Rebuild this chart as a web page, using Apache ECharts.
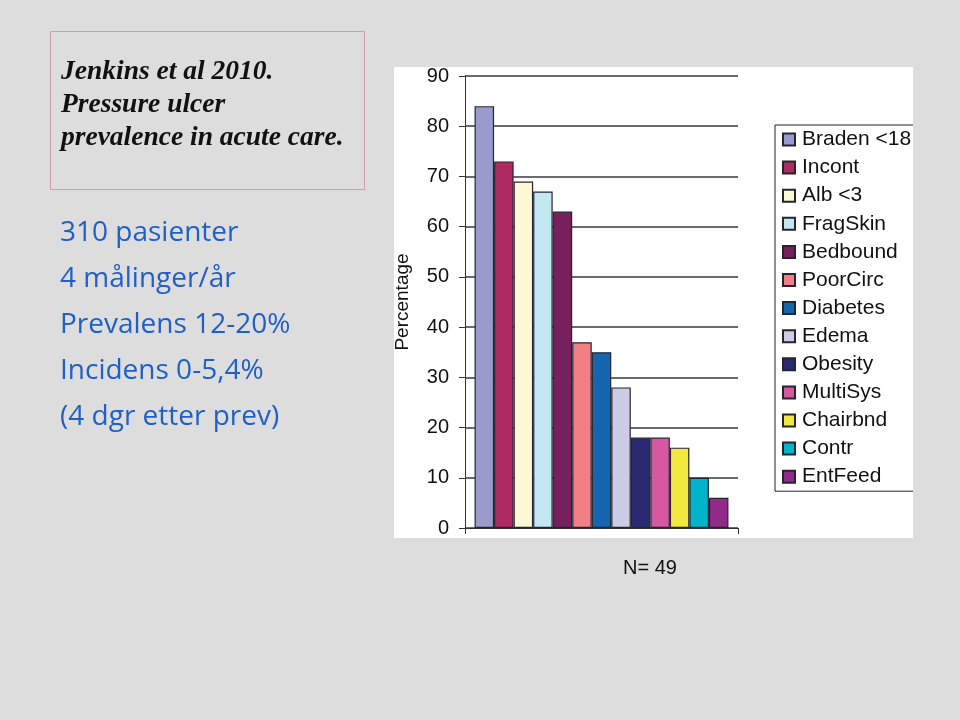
<!DOCTYPE html>
<html>
<head>
<meta charset="utf-8">
<script src="https://cdn.jsdelivr.net/npm/echarts@6/dist/echarts.min.js"></script>
<style>html,body{margin:0;padding:0;background:#dddddd;}#c{width:960px;height:720px;}</style>
</head>
<body>
<div id="c"></div>
<script>
const seriesNames = ['Braden <18','Incont','Alb <3','FragSkin','Bedbound','PoorCirc','Diabetes','Edema','Obesity','MultiSys','Chairbnd','Contr','EntFeed'];
const seriesValues = [84, 73, 69, 67, 63, 37, 35, 28, 18, 18, 16, 10, 6];
const seriesColors = ['#9a9acc','#b02a62','#fcf8d6','#c4e8f2','#76205e','#f07f86','#1566b0','#cccce6','#2a2a72','#d658a0','#f2e840','#00b4cc','#922a8a'];
const yTicks = [0, 10, 20, 30, 40, 50, 60, 70, 80, 90];
const categories = [''];
const titleLines = ['Jenkins et al 2010.', 'Pressure ulcer', 'prevalence in acute care.'];
const infoLines = ['310 pasienter', '4 målinger/år', 'Prevalens 12-20%', 'Incidens 0-5,4%', '(4 dgr etter prev)'];
const noteText = 'N= 49';

const chart = echarts.init(document.getElementById('c'), null, {renderer: 'canvas'});

const series = seriesNames.map((n, i) => ({
  name: n,
  type: 'bar',
  data: [seriesValues[i]],
  barGap: '0%',
  barCategoryGap: '7%',
  itemStyle: {color: seriesColors[i], borderColor: '#252532', borderWidth: 1.2},
  emphasis: {disabled: true}
}));

const graphics = [
  {type: 'rect', shape: {x: 394, y: 67, width: 519, height: 471}, style: {fill: '#ffffff'}, z: -10, silent: true},
  {type: 'rect', shape: {x: 913, y: 55, width: 47, height: 500}, style: {fill: '#dddddd'}, z: 100, zlevel: 1, silent: true},
  {type: 'rect', shape: {x: 50.5, y: 31.5, width: 314, height: 158}, style: {fill: 'none', stroke: '#d89aa4', lineWidth: 1}, silent: true}
];
titleLines.forEach((t, i) => graphics.push({
  type: 'text', left: 61, top: 58 + i * 33,
  style: {text: t, font: 'italic bold 27.5px "Liberation Serif", serif', fill: '#111111'}
}));
infoLines.forEach((t, i) => graphics.push({
  type: 'text', left: 60, top: 219 + i * 46,
  style: {text: t, font: '28px "Open Sans", sans-serif', fill: '#1f5fc6'}
}));
graphics.push({
  type: 'text', left: 623, top: 558,
  style: {text: noteText, font: '20px "Liberation Sans", Arial, sans-serif', fill: '#111111'}
});

chart.setOption({
  backgroundColor: '#dddddd',
  animation: false,
  grid: {left: 465, top: 76, right: 222, bottom: 192, containLabel: false},
  legend: {
    orient: 'vertical',
    left: 775, top: 125,
    data: seriesNames,
    icon: 'rect',
    itemWidth: 12, itemHeight: 12,
    itemGap: 7.1,
    padding: [4, 40, 4, 7],
    borderColor: '#222222', borderWidth: 1,
    backgroundColor: '#ffffff',
    selectedMode: false,
    textStyle: {fontFamily: '"Liberation Sans", Arial, sans-serif', fontSize: 21, color: '#111111', lineHeight: 20, padding: [0,0,0,2]}
  },
  xAxis: {
    type: 'category',
    data: categories,
    axisLine: {lineStyle: {color: '#333333', width: 1}},
    axisTick: {show: true, length: 6, lineStyle: {color: '#333333'}},
    axisLabel: {show: false},
    splitLine: {show: false}
  },
  yAxis: {
    type: 'value',
    min: 0, max: 90, interval: 10,
    name: 'Percentage',
    nameLocation: 'middle',
    nameRotate: 90,
    nameGap: 53,
    nameTextStyle: {fontFamily: '"Liberation Sans", Arial, sans-serif', fontSize: 19, color: '#111111'},
    axisLine: {show: true, lineStyle: {color: '#333333', width: 1}},
    axisTick: {show: true, length: 6, lineStyle: {color: '#333333'}},
    axisLabel: {
      fontFamily: '"Liberation Sans", Arial, sans-serif', fontSize: 20, color: '#111111', margin: 16,
      formatter: v => yTicks.includes(v) ? String(v) : ''
    },
    splitLine: {show: true, lineStyle: {color: '#3a3a3a', width: 1.5}}
  },
  series: series,
  graphic: graphics
});
</script>
</body>
</html>
